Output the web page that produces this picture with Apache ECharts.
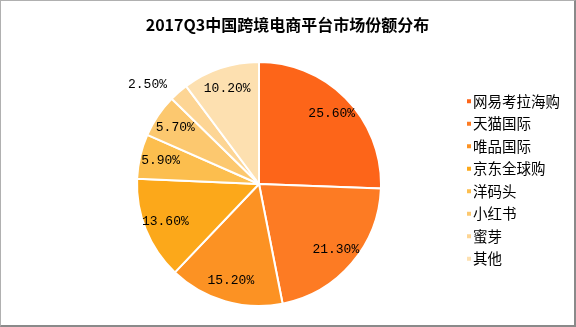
<!DOCTYPE html>
<html>
<head>
<meta charset="utf-8">
<script src="https://cdn.jsdelivr.net/npm/echarts@6/dist/echarts.min.js"></script>
<style>
html,body{margin:0;padding:0;background:#fff;}
#wrap{width:576px;height:327px;box-sizing:border-box;border-top:1px solid #b0b0b0;border-left:1px solid #b0b0b0;border-right:2px solid #8a8a8a;border-bottom:2px solid #8a8a8a;}
#chart{width:573px;height:324px;}
</style>
</head>
<body>
<div id="wrap"><div id="chart"></div></div>
<script>
const titleText = '2017Q3中国跨境电商平台市场份额分布';
const categories = ['网易考拉海购','天猫国际','唯品国际','京东全球购','洋码头','小红书','蜜芽','其他'];
const shares = [25.6, 21.3, 15.2, 13.6, 5.9, 5.7, 2.5, 10.2];
const colors = ['#FD6519','#FD7B23','#FC9223','#FCA81A','#FCBE4E','#FCC86F','#FDD594','#FDE0B0'];
const outsideLabels = ['蜜芽'];

const chart = echarts.init(document.getElementById('chart'));
const mainData = categories.map((c,i)=>({name:c, value:shares[i], itemStyle:{color:colors[i]}}));
const labelData = categories.map((c,i)=>{
  const d = {name:c, value:shares[i]};
  if (outsideLabels.includes(c)) {
    d.label = {position:'outside'};
    d.labelLine = {show:false, length:10, length2:0};
  }
  return d;
});
chart.setOption({
  animation:false,
  title:{text:titleText, left:'center', top:11,
    textStyle:{fontFamily:'Noto Sans CJK SC', fontSize:16, fontWeight:'bold', color:'#000'}},
  legend:{orient:'vertical', left:464, top:93, padding:0, itemWidth:6, itemHeight:6, itemGap:8,
    icon:'rect', data:categories,
    textStyle:{fontFamily:'Noto Sans CJK SC', fontSize:14.5, color:'#000', padding:[0,0,0,-4]}},
  series:[
    {type:'pie', center:[258,183], radius:122, startAngle:90, clockwise:true,
     avoidLabelOverlap:false, silent:true,
     itemStyle:{borderColor:'#fff', borderWidth:2},
     label:{show:false}, labelLine:{show:false},
     data:mainData},
    {type:'pie', center:[258,183], radius:[74,122], startAngle:90, clockwise:true,
     avoidLabelOverlap:false, silent:true, legendHoverLink:false,
     itemStyle:{color:'rgba(0,0,0,0)', borderWidth:0},
     label:{show:true, position:'inside', formatter:p=>p.value.toFixed(2)+'%',
       fontFamily:'Liberation Mono', fontSize:13, color:'#000'},
     labelLine:{show:false},
     data:labelData}
  ]
});
</script>
</body>
</html>
